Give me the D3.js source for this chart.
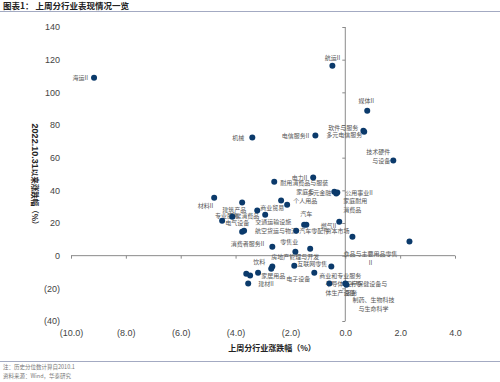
<!DOCTYPE html>
<html><head><meta charset="utf-8">
<script src="https://cdn.jsdelivr.net/npm/d3@7"></script>
<style>body{margin:0;background:#fff}svg{display:block}</style>
</head><body>
<svg id="c" width="500" height="382"></svg>
<script>
const names = ["海运II","航运II","媒体II","软件与服务","多元电信服务","电信服务II","机械","技术硬件|与设备","电力II","耐用消费品与服装","多元金融","公用事业II","家庭耐用|消费品","家庭与|个人用品","","材料II","建筑产品","商业贸易","日常消费品","电气设备","专业服务","交通运输设施","航空货运与物流","汽车零配件","汽车","","燃气II","资本市场","消费者服务II","零售业","房地产管理与开发","食品与主要用品零售|II","饮料","家居用品","互联网零售","商业和专业服务","电子设备","","","","建材II","半导体与半导|体生产设备","医疗保健设备与|服务","制药、生物科技|与生命科学"];
const xVals = [-9.16,-0.47,0.80,0.66,0.69,-1.09,-3.39,1.75,-1.17,-2.59,-0.40,-0.29,-0.33,-2.12,-2.34,-4.78,-3.76,-3.21,-2.92,-4.12,-4.49,-3.76,-3.69,-1.79,-1.50,-1.42,-0.22,0.26,-2.66,-1.82,-1.28,2.34,-2.66,-2.70,-1.86,-0.51,-1.13,-3.61,-3.47,-3.18,-3.54,-0.58,0.00,0.04];
const yVals = [109.0,116.3,88.8,76.5,75.9,73.5,72.3,58.2,47.8,45.3,39.2,38.6,38.0,31.2,33.7,35.5,32.5,27.6,25.1,23.9,21.4,14.7,15.3,15.3,19.0,19.0,20.8,11.6,5.5,2.4,4.3,8.6,-6.7,-8.0,-6.1,-6.7,-10.4,-11.0,-12.2,-10.4,-17.1,-17.1,-17.1,-17.8];
const xTicks = [-10,-8,-6,-4,-2,0,2,4];
const yTicks = [-40,-20,0,20,40,60,80,100,120,140];

// label placement relative to the dot: [dx, dy, anchor]
const labelLayout = [
 [-6,2,"end"],[0,-6,"middle"],[-1,-8,"middle"],[-5,-1,"end"],[-2,5,"end"],[-6,2,"end"],[-8,2,"end"],
 [-3,-7,"end"],[-6,2,"end"],[6,3,"start"],[-3,3,"end"],[8,2,"start"],[7,9,"start"],[18,-11,"middle"],
 [0,0,"start"],[-1,10,"end"],[-8,9,"middle"],[3,-1,"start"],[-6,3,"end"],[5,8,"middle"],[5,-3,"middle"],
 [13,-8,"start"],[11,2,"start"],[3,2,"start"],[2,-9,"middle"],[0,0,"start"],[-3,6,"end"],[-3,-4,"end"],
 [-8,-1,"end"],[-6,-8,"middle"],[-15,10,"middle"],[-39,14,"middle"],[-7,-3,"end"],[2,9,"middle"],
 [3,0,"start"],[9,11,"middle"],[-4,8,"end"],[0,0,"start"],[0,0,"start"],[0,0,"start"],[10,2,"start"],
 [-4,2,"start"],[0,2,"start"],[27,17,"middle"]
];

const svg = d3.select("#c");
const x = d3.scaleLinear().domain([-10,4]).range([71,455]);
const y = d3.scaleLinear().domain([-40,140]).range([321,27]);
const fmtX = v => v < 0 ? "(" + Math.abs(v).toFixed(1) + ")" : v.toFixed(1);
const fmtY = v => v < 0 ? "(" + Math.abs(v) + ")" : String(v);

// title
svg.append("text").attr("x",3).attr("y",9).attr("font-family","Noto Sans CJK SC").attr("font-size",8.5)
  .attr("font-weight","bold").attr("fill","#222").text("图表1： 上周分行业表现情况一览");
svg.append("line").attr("x1",0).attr("x2",500).attr("y1",11.5).attr("y2",11.5).attr("stroke","#a3aac2").attr("stroke-width",1);
svg.append("line").attr("x1",0).attr("x2",500).attr("y1",361.5).attr("y2",361.5).attr("stroke","#a3aac2").attr("stroke-width",1);
svg.append("text").attr("x",3).attr("y",369).attr("font-family","Noto Sans CJK SC").attr("font-size",5.5).attr("fill","#777").text("注：历史分位数计算自2010.1");
svg.append("text").attr("x",3).attr("y",378).attr("font-family","Noto Sans CJK SC").attr("font-size",5.5).attr("fill","#777").text("资料来源：Wind，华泰研究");

// axis ticks through origin
const gx = svg.append("g").attr("transform",`translate(0,${y(0)})`)
  .call(d3.axisBottom(x).tickValues(xTicks).tickSize(3).tickFormat(""));
const gy = svg.append("g").attr("transform",`translate(${x(0)},0)`)
  .call(d3.axisLeft(y).tickValues(yTicks).tickSize(3).tickFormat(""));
[gx,gy].forEach(g=>{g.select(".domain").remove();g.selectAll("line").attr("stroke","#8a8a8a");});
svg.append("line").attr("x1",x(-10)).attr("x2",x(4)).attr("y1",y(0)).attr("y2",y(0)).attr("stroke","#8a8a8a");
svg.append("line").attr("x1",x(0)).attr("x2",x(0)).attr("y1",y(140)).attr("y2",y(-40)).attr("stroke","#8a8a8a");

// low-position tick labels
const lx = svg.append("g").attr("transform","translate(0,327)")
  .call(d3.axisBottom(x).tickValues(xTicks).tickSize(0).tickFormat(fmtX));
const ly = svg.append("g").attr("transform","translate(63,0)")
  .call(d3.axisLeft(y).tickValues(yTicks).tickSize(0).tickFormat(fmtY));
[lx,ly].forEach(g=>{g.select(".domain").remove();g.selectAll("text").attr("font-family","Liberation Sans, Arial").attr("font-size",9).attr("fill","#444");});

// axis titles
svg.append("text").attr("x",272).attr("y",351).attr("text-anchor","middle").attr("font-family","Noto Sans CJK SC")
  .attr("font-size",8).attr("font-weight","bold").attr("fill","#222").text("上周分行业涨跌幅（%）");
const yt = svg.append("text").attr("transform","translate(32,176) rotate(90)").attr("text-anchor","middle")
  .attr("font-family","Noto Sans CJK SC").attr("font-weight","bold").attr("fill","#222");
yt.append("tspan").attr("font-family","Liberation Sans, Arial").attr("font-size",9).text("2022.10.31");
yt.append("tspan").attr("font-size",7.5).text("以来涨跌幅（%）");

// points
const pts = names.map((n,i)=>({n, x:xVals[i], y:yVals[i], l:labelLayout[i]}));
const lab = svg.append("g").attr("font-family","Noto Sans CJK SC").attr("font-size",6).attr("fill","#555");
pts.forEach(p=>{
  if(!p.n) return;
  const t = lab.append("text").attr("x",x(p.x)+p.l[0]).attr("y",y(p.y)+p.l[1]).attr("text-anchor",p.l[2]);
  p.n.split("|").forEach((s,k)=>t.append("tspan").attr("x",x(p.x)+p.l[0]).attr("dy",k?9:0).text(s));
});
svg.append("g").selectAll("circle").data(pts).join("circle")
  .attr("cx",d=>x(d.x)).attr("cy",d=>y(d.y)).attr("r",3).attr("fill","#0b3a6b");
</script>
</body></html>
